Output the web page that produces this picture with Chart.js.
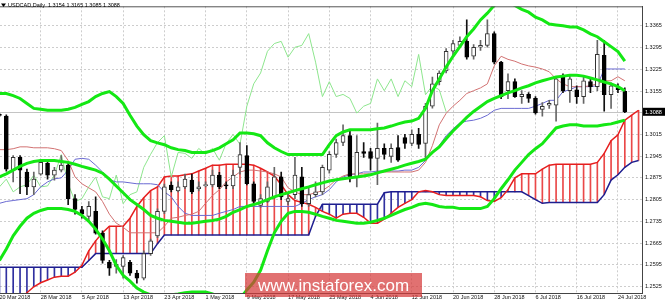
<!DOCTYPE html>
<html>
<head>
<meta charset="utf-8">
<title>USDCAD Daily</title>
<script src="https://cdn.jsdelivr.net/npm/chart.js@4.4.0/dist/chart.umd.min.js"></script>
<style>
  html, body { margin: 0; padding: 0; background: #fff; overflow: hidden; }
  #wrap { position: absolute; left: -4px; top: 0; width: 669px; height: 304px; }
</style>
</head>
<body>
<div id="wrap"><canvas id="canvas-1"></canvas></div>
<script>
const dates = ['20 Mar 2018','21 Mar 2018','22 Mar 2018','23 Mar 2018','26 Mar 2018','27 Mar 2018','28 Mar 2018','29 Mar 2018','30 Mar 2018','2 Apr 2018',
  '3 Apr 2018','4 Apr 2018','5 Apr 2018','6 Apr 2018','9 Apr 2018','10 Apr 2018','11 Apr 2018','12 Apr 2018','13 Apr 2018','16 Apr 2018',
  '17 Apr 2018','18 Apr 2018','19 Apr 2018','20 Apr 2018','23 Apr 2018','24 Apr 2018','25 Apr 2018','26 Apr 2018','27 Apr 2018','30 Apr 2018',
  '1 May 2018','2 May 2018','3 May 2018','4 May 2018','7 May 2018','8 May 2018','9 May 2018','10 May 2018','11 May 2018','14 May 2018',
  '15 May 2018','16 May 2018','17 May 2018','18 May 2018','21 May 2018','22 May 2018','23 May 2018','24 May 2018','25 May 2018','28 May 2018',
  '29 May 2018','30 May 2018','31 May 2018','1 Jun 2018','4 Jun 2018','5 Jun 2018','6 Jun 2018','7 Jun 2018','8 Jun 2018','11 Jun 2018',
  '12 Jun 2018','13 Jun 2018','14 Jun 2018','15 Jun 2018','18 Jun 2018','19 Jun 2018','20 Jun 2018','21 Jun 2018','22 Jun 2018','25 Jun 2018',
  '26 Jun 2018','27 Jun 2018','28 Jun 2018','29 Jun 2018','2 Jul 2018','3 Jul 2018','4 Jul 2018','5 Jul 2018','6 Jul 2018','9 Jul 2018',
  '10 Jul 2018','11 Jul 2018','12 Jul 2018','13 Jul 2018','16 Jul 2018','17 Jul 2018','18 Jul 2018','19 Jul 2018','20 Jul 2018','23 Jul 2018',
  '24 Jul 2018','25 Jul 2018','26 Jul 2018','27 Jul 2018'];

const opens = [1.3080,1.3074,1.2900,1.2941,1.2894,1.2846,1.2887,1.2922,1.2884,1.2900,
  1.2916,1.2808,1.2773,1.2751,1.2767,1.2697,1.2603,1.2590,1.2590,1.2603,
  1.2568,1.2552,1.2631,1.2688,1.2767,1.2852,1.2833,1.2846,1.2868,1.2840,
  1.2850,1.2852,1.2884,1.2852,1.2849,1.2909,1.2947,1.2856,1.2786,1.2799,
  1.2814,1.2878,1.2799,1.2821,1.2878,1.2792,1.2821,1.2830,1.2900,1.2951,
  1.2989,1.3011,1.2878,1.2960,1.2960,1.2938,1.2970,1.2944,1.2973,1.3005,
  1.2986,1.3015,1.2986,1.3106,1.3185,1.3220,1.3283,1.3302,1.3315,1.3267,
  1.3296,1.3302,1.3340,1.3248,1.3156,1.3185,1.3137,1.3144,1.3131,1.3096,
  1.3109,1.3109,1.3204,1.3156,1.3159,1.3137,1.3185,1.3169,1.3270,1.3143,
  1.3166,1.3154];
const highs = [1.3083,1.3078,1.2947,1.2947,1.2903,1.2894,1.2935,1.2932,1.2909,1.2947,
  1.2925,1.2821,1.2783,1.2799,1.2814,1.2704,1.2609,1.2612,1.2625,1.2609,
  1.2577,1.2640,1.2678,1.2775,1.2855,1.2862,1.2862,1.2887,1.2887,1.2862,
  1.2862,1.2900,1.2893,1.2862,1.2900,1.2989,1.2979,1.2862,1.2821,1.2862,
  1.2909,1.2894,1.2824,1.2941,1.2909,1.2846,1.2862,1.2916,1.2960,1.3000,
  1.3046,1.3030,1.3011,1.2989,1.2970,1.3052,1.2985,1.2985,1.3011,1.3015,
  1.3030,1.3035,1.3115,1.3200,1.3220,1.3292,1.3318,1.3330,1.3384,1.3305,
  1.3318,1.3384,1.3346,1.3251,1.3210,1.3194,1.3156,1.3150,1.3137,1.3118,
  1.3125,1.3200,1.3210,1.3204,1.3172,1.3204,1.3194,1.3318,1.3318,1.3181,
  1.3178,1.3165];
const lows = [1.3072,1.2897,1.2862,1.2824,1.2821,1.2821,1.2884,1.2871,1.2868,1.2894,
  1.2789,1.2758,1.2745,1.2735,1.2694,1.2600,1.2561,1.2568,1.2552,1.2561,
  1.2536,1.2546,1.2625,1.2682,1.2760,1.2830,1.2830,1.2840,1.2824,1.2833,
  1.2846,1.2846,1.2840,1.2840,1.2840,1.2887,1.2852,1.2789,1.2780,1.2795,
  1.2808,1.2805,1.2789,1.2808,1.2783,1.2783,1.2814,1.2821,1.2890,1.2941,
  1.2979,1.2862,1.2846,1.2941,1.2900,1.2853,1.2935,1.2925,1.2928,1.2970,
  1.2979,1.2970,1.2935,1.3100,1.3175,1.3213,1.3270,1.3295,1.3258,1.3258,
  1.3286,1.3296,1.3242,1.3130,1.3130,1.3134,1.3115,1.3118,1.3080,1.3074,
  1.3099,1.3058,1.3150,1.3118,1.3115,1.3115,1.3150,1.3156,1.3090,1.3099,
  1.3150,1.3085];
const closes = [1.3076,1.2903,1.2941,1.2900,1.2846,1.2871,1.2925,1.2884,1.2900,1.2916,
  1.2808,1.2773,1.2758,1.2783,1.2697,1.2609,1.2584,1.2596,1.2618,1.2568,
  1.2552,1.2631,1.2672,1.2767,1.2846,1.2837,1.2846,1.2871,1.2830,1.2846,
  1.2853,1.2884,1.2846,1.2849,1.2884,1.2950,1.2856,1.2799,1.2808,1.2846,
  1.2878,1.2814,1.2808,1.2884,1.2792,1.2821,1.2830,1.2909,1.2951,1.2989,
  1.3011,1.2878,1.2957,1.2954,1.2938,1.2970,1.2951,1.2970,1.2932,1.2986,
  1.3015,1.2983,1.3106,1.3178,1.3213,1.3283,1.3308,1.3315,1.3264,1.3296,
  1.3302,1.3340,1.3248,1.3137,1.3185,1.3137,1.3144,1.3131,1.3084,1.3106,
  1.3115,1.3194,1.3156,1.3194,1.3137,1.3188,1.3169,1.3273,1.3143,1.3172,
  1.3159,1.3088];

// ichimoku
const tenkan = [1.2966,1.2966,1.2969,1.2975,1.2975,1.2972,1.2972,1.2972,1.2969,1.2963,
  1.2931,1.2878,1.2856,1.2843,1.2830,1.2799,1.2758,1.2729,1.2716,1.2698,
  1.2698,1.2698,1.2698,1.2698,1.2719,1.2745,1.2748,1.2754,1.2758,1.2767,
  1.2793,1.2818,1.2837,1.2862,1.2878,1.2894,1.2900,1.2900,1.2897,1.2894,
  1.2888,1.2878,1.2843,1.2830,1.2821,1.2821,1.2827,1.2834,1.2849,1.2869,
  1.2881,1.2888,1.2888,1.2888,1.2888,1.2891,1.2894,1.2894,1.2894,1.2894,
  1.2894,1.2900,1.2925,1.2979,1.3046,1.3083,1.3106,1.3125,1.3147,1.3156,
  1.3165,1.3178,1.3236,1.3267,1.3257,1.3251,1.3242,1.3236,1.3232,1.3226,
  1.3217,1.3194,1.3178,1.3169,1.3169,1.3169,1.3172,1.3178,1.3188,1.3188,
  1.3201,1.3188];
const kijun = [1.2793,1.2799,1.2802,1.2805,1.2808,1.2821,1.2846,1.2862,1.2872,1.2875,
  1.2900,1.2935,1.2938,1.2935,1.2916,1.2894,1.2869,1.2862,1.2862,1.2859,
  1.2856,1.2856,1.2856,1.2853,1.2830,1.2814,1.2783,1.2761,1.2754,1.2754,
  1.2754,1.2754,1.2761,1.2767,1.2773,1.2783,1.2783,1.2783,1.2783,1.2783,
  1.2783,1.2783,1.2783,1.2783,1.2793,1.2805,1.2814,1.2821,1.2837,1.2862,
  1.2878,1.2885,1.2888,1.2894,1.2894,1.2897,1.2897,1.2897,1.2897,1.2900,
  1.2900,1.2909,1.2931,1.2957,1.2979,1.3011,1.3033,1.3052,1.3058,1.3061,
  1.3067,1.3077,1.3093,1.3099,1.3099,1.3099,1.3099,1.3099,1.3106,1.3115,
  1.3125,1.3125,1.3153,1.3159,1.3169,1.3169,1.3169,1.3172,1.3226,1.3226,
  1.3226,1.3226];
const spanA = [1.2466,1.2466,1.2473,1.2482,1.2505,1.2524,1.2537,1.2546,1.2555,1.2558,
  1.2558,1.2571,1.2593,1.2640,1.2672,1.2698,1.2719,1.2719,1.2719,1.2745,
  1.2783,1.2811,1.2834,1.2846,1.2878,1.2881,1.2881,1.2885,1.2888,1.2897,
  1.2906,1.2916,1.2916,1.2919,1.2919,1.2919,1.2919,1.2916,1.2906,1.2894,
  1.2881,1.2853,1.2821,1.2802,1.2796,1.2790,1.2780,1.2767,1.2758,1.2745,
  1.2758,1.2761,1.2761,1.2748,1.2729,1.2729,1.2742,1.2761,1.2780,1.2793,
  1.2805,1.2830,1.2834,1.2830,1.2821,1.2818,1.2818,1.2818,1.2818,1.2818,
  1.2814,1.2802,1.2799,1.2811,1.2837,1.2875,1.2888,1.2888,1.2888,1.2903,
  1.2916,1.2919,1.2919,1.2919,1.2919,1.2919,1.2919,1.2925,1.2954,1.2995,
  1.3014,1.3061,1.3077,1.3093];
const spanB = [1.2587,1.2587,1.2587,1.2587,1.2587,1.2587,1.2587,1.2587,1.2587,1.2587,
  1.2587,1.2587,1.2587,1.2609,1.2631,1.2631,1.2631,1.2631,1.2631,1.2631,
  1.2631,1.2631,1.2631,1.2663,1.2691,1.2691,1.2691,1.2691,1.2691,1.2691,
  1.2691,1.2691,1.2691,1.2691,1.2691,1.2691,1.2691,1.2691,1.2691,1.2691,
  1.2691,1.2691,1.2691,1.2691,1.2691,1.2691,1.2751,1.2790,1.2790,1.2790,
  1.2790,1.2790,1.2790,1.2790,1.2790,1.2790,1.2827,1.2830,1.2830,1.2830,
  1.2830,1.2830,1.2830,1.2830,1.2830,1.2830,1.2830,1.2830,1.2830,1.2830,
  1.2830,1.2830,1.2830,1.2830,1.2830,1.2830,1.2830,1.2818,1.2805,1.2793,
  1.2796,1.2796,1.2796,1.2796,1.2796,1.2796,1.2796,1.2796,1.2821,1.2868,
  1.2885,1.2909,1.2925,1.2931];
// chikou span is the close moved back 26 bars
const chikou = closes.slice(26);

// bollinger bands
const bbUpper = [1.3147,1.3147,1.3140,1.3131,1.3115,1.3099,1.3096,1.3093,1.3093,1.3093,
  1.3096,1.3102,1.3112,1.3121,1.3137,1.3147,1.3153,1.3137,1.3115,1.3077,
  1.3042,1.3014,1.2995,1.2988,1.2982,1.2972,1.2966,1.2963,1.2957,1.2957,
  1.2957,1.2963,1.2972,1.2985,1.2998,1.3020,1.3020,1.3017,1.3011,1.2988,
  1.2972,1.2960,1.2950,1.2950,1.2950,1.2950,1.2950,1.2950,1.2982,1.3011,
  1.3023,1.3030,1.3030,1.3030,1.3030,1.3033,1.3036,1.3042,1.3049,1.3055,
  1.3058,1.3067,1.3099,1.3156,1.3194,1.3232,1.3267,1.3298,1.3330,1.3355,
  1.3384,1.3406,1.3431,1.3444,1.3440,1.3431,1.3418,1.3409,1.3393,1.3384,
  1.3371,1.3368,1.3365,1.3361,1.3361,1.3352,1.3339,1.3330,1.3314,1.3298,
  1.3282,1.3251];
const bbMiddle = [1.2878,1.2888,1.2900,1.2912,1.2922,1.2928,1.2931,1.2931,1.2931,1.2928,
  1.2925,1.2919,1.2912,1.2906,1.2900,1.2890,1.2871,1.2849,1.2827,1.2805,
  1.2789,1.2773,1.2754,1.2745,1.2738,1.2735,1.2732,1.2729,1.2729,1.2732,
  1.2735,1.2738,1.2742,1.2751,1.2764,1.2773,1.2783,1.2789,1.2796,1.2805,
  1.2814,1.2821,1.2827,1.2834,1.2840,1.2846,1.2853,1.2859,1.2865,1.2869,
  1.2872,1.2875,1.2878,1.2881,1.2885,1.2891,1.2897,1.2903,1.2909,1.2916,
  1.2922,1.2928,1.2935,1.2957,1.2975,1.3001,1.3026,1.3048,1.3070,1.3089,
  1.3105,1.3121,1.3131,1.3140,1.3149,1.3156,1.3165,1.3172,1.3181,1.3188,
  1.3194,1.3200,1.3203,1.3206,1.3206,1.3203,1.3197,1.3191,1.3184,1.3178,
  1.3169,1.3156];
const bbLower = [1.2609,1.2646,1.2688,1.2719,1.2745,1.2761,1.2770,1.2776,1.2776,1.2776,
  1.2773,1.2767,1.2754,1.2735,1.2710,1.2678,1.2640,1.2593,1.2561,1.2542,
  1.2520,1.2507,1.2498,1.2491,1.2491,1.2498,1.2501,1.2505,1.2507,1.2507,
  1.2507,1.2501,1.2491,1.2482,1.2482,1.2485,1.2514,1.2539,1.2577,1.2640,
  1.2698,1.2735,1.2761,1.2767,1.2767,1.2764,1.2758,1.2751,1.2745,1.2738,
  1.2735,1.2732,1.2729,1.2729,1.2732,1.2738,1.2745,1.2754,1.2764,1.2773,
  1.2780,1.2789,1.2793,1.2789,1.2783,1.2780,1.2780,1.2776,1.2776,1.2776,
  1.2776,1.2783,1.2808,1.2840,1.2869,1.2900,1.2925,1.2950,1.2969,1.2985,
  1.3011,1.3036,1.3042,1.3046,1.3046,1.3042,1.3042,1.3042,1.3046,1.3049,
  1.3055,1.3061];

const priceTicks = [1.2525,1.2595,1.2665,1.2735,1.2805,1.2875,1.2945,1.3015,1.3085,1.3155,1.3225,1.3295,1.3365];
const lastPrice = 1.3088;
const title = 'USDCAD,Daily  1.3154 1.3165 1.3085 1.3088';

Chart.defaults.font.family = '"Liberation Sans", Arial, sans-serif';

const isBear = i => closes[i] < opens[i];

const decor = {
  id: 'decor',
  beforeDatasetsDraw(chart) {
    const {ctx, chartArea: a, scales: {y}} = chart;
    const py = Math.round(y.getPixelForValue(lastPrice)) + 0.5;
    ctx.save();
    ctx.strokeStyle = '#c4c4c4';
    ctx.lineWidth = 1;
    ctx.beginPath();
    ctx.moveTo(a.left, py);
    ctx.lineTo(a.right, py);
    ctx.stroke();
    ctx.restore();
  },
  afterDraw(chart) {
    const {ctx, chartArea: a, scales: {y}, width} = chart;
    ctx.save();
    // frame top
    ctx.strokeStyle = '#555';
    ctx.lineWidth = 1;
    ctx.beginPath();
    ctx.moveTo(a.left, a.top + 0.5);
    ctx.lineTo(a.right, a.top + 0.5);
    ctx.stroke();

    // last price box
    const py = y.getPixelForValue(lastPrice);
    ctx.fillStyle = '#000';
    ctx.fillRect(a.right + 1, py - 4, width - a.right - 1, 8);
    ctx.fillStyle = '#fff';
    ctx.font = '5.5px "Liberation Sans"';
    ctx.textBaseline = 'middle';
    ctx.fillText(lastPrice.toFixed(4), a.right + 3, py + 0.5);

    // title
    ctx.fillStyle = '#000';
    ctx.beginPath();
    ctx.moveTo(5, 3.5); ctx.lineTo(10, 3.5); ctx.lineTo(7.5, 7);
    ctx.closePath();
    ctx.fill();
    ctx.fillText(title, 12, 5.5);

    // watermark
    ctx.fillStyle = 'rgba(214, 58, 58, 0.72)';
    ctx.fillRect(249, 273, 177, 24);
    ctx.fillStyle = '#fff';
    ctx.font = '17px "Liberation Sans"';
    ctx.textAlign = 'center';
    ctx.fillText('www.instaforex.com', 337.5, 286);
    ctx.restore();
  }
};

const line = (data, color, width, order) => ({
  type: 'line', data, borderColor: color, borderWidth: width,
  pointRadius: 0, tension: 0, fill: false, order
});

const chart = new Chart(document.getElementById('canvas-1'), {
  type: 'bar',
  data: {
    labels: dates,
    datasets: [
      line(bbUpper, '#14e814', 3, 0),
      line(bbMiddle, '#14e814', 3, 0),
      line(bbLower, '#14e814', 3, 0),
      {
        data: opens.map((o, i) => [o, closes[i]]),
        backgroundColor: ctx => isBear(ctx.dataIndex) ? '#000' : '#fff',
        borderColor: ctx => isBear(ctx.dataIndex) ? '#000' : '#333',
        borderWidth: 1, borderSkipped: false,
        barThickness: 4, minBarLength: 1, grouped: false, order: 1
      },
      {
        data: lows.map((l, i) => [l, highs[i]]),
        backgroundColor: ctx => isBear(ctx.dataIndex) ? '#111' : '#666',
        barThickness: 1, grouped: false, order: 2
      },
      line(tenkan, '#d27272', 1, 3),
      line(kijun, '#6a6ad2', 1, 3),
      line(chikou, '#8ee68e', 1, 3),
      line(spanA, '#e61e1e', 1.5, 4),
      line(spanB, '#1e1e90', 1.5, 4),
      {
        data: spanA.map((a, i) => [a, spanB[i]]),
        backgroundColor: ctx => spanA[ctx.dataIndex] >= spanB[ctx.dataIndex] ? '#ea4848' : '#3030a0',
        barThickness: 1, grouped: false, order: 5
      }
    ]
  },
  options: {
    responsive: true,
    maintainAspectRatio: false,
    animation: false,
    events: [],
    layout: { padding: { top: 1, left: 0, right: 0, bottom: 0 } },
    plugins: { legend: { display: false }, tooltip: { enabled: false } },
    scales: {
      x: {
        offset: true,
        afterFit: s => { s.height = 11; },
        grid: {
          offset: false, drawTicks: false, lineWidth: 1,
          color: ctx => ctx.index % 6 === 0 ? '#cdcdcd' : 'rgba(0,0,0,0)'
        },
        border: { display: true, color: '#444', dash: [2, 2] },
        ticks: {
          autoSkip: false, maxRotation: 0, align: 'start', padding: 1,
          color: '#111', font: { size: 5.5 },
          callback: (v, i) => i % 6 === 0 ? dates[i] : ''
        }
      },
      y: {
        position: 'right',
        min: 1.2504,
        max: 1.3428,
        afterFit: s => { s.width = 23; },
        afterBuildTicks: s => { s.ticks = priceTicks.map(v => ({ value: v })); },
        grid: { drawTicks: false, color: '#cdcdcd', lineWidth: 1 },
        border: { display: true, color: '#444', dash: [2, 2] },
        ticks: {
          padding: 3, color: '#111', font: { size: 5.5 },
          callback: v => Math.abs(v - 1.3085) < 1e-6 ? '' : v.toFixed(4)
        }
      }
    }
  },
  plugins: [decor]
});
</script>
</body>
</html>
